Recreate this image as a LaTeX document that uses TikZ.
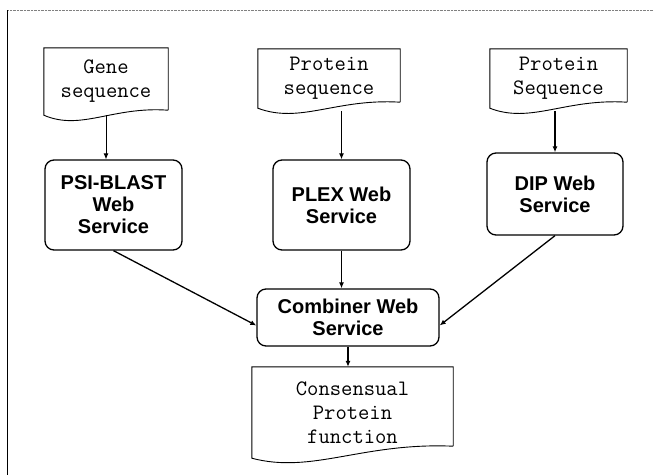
\documentclass[tikz,border=0pt]{standalone}
\usepackage{fontspec}
\newfontfamily\svcfont{Liberation Sans}
\usetikzlibrary{arrows.meta,calc,positioning}

\tikzset{
  service/.style={draw, line width=1.3pt, rounded corners=9pt, align=center,
    inner sep=0pt, font=\svcfont\bfseries\fontsize{20}{22}\selectfont},
  datafile/.style={align=center, inner sep=0pt,
    font=\ttfamily\fontsize{22}{24}\selectfont},
  docline/.style={line width=0.9pt},
  flow/.style={-{Latex[length=6pt,width=5pt]}, line width=1.3pt},
}

% document outline with wavy bottom: node, dip, rise of right corner
\newcommand{\docoutline}[3]{%
  \draw[docline] ([yshift=#3]#1.south east) -- (#1.north east) -- (#1.north west) -- (#1.south west)
    .. controls ($(#1.south west)!0.3!(#1.south east)+(0pt,{-3.2*#2})$)
    and ($(#1.south west)!0.55!(#1.south east)+(0pt,{#3+4pt})$) .. ([yshift=#3]#1.south east);
}

\begin{document}
\begin{tikzpicture}[x=1pt,y=-1pt]
  \useasboundingbox (0,0) rectangle (654,475);
  % frame
  \draw[gray, densely dotted] (7,10) -- (654,10);
  \draw[line width=1pt] (7,10) -- (7,475);

  % inputs
  \node[datafile, minimum width=124pt, minimum height=67pt] (gene) at (106,81.5) {Gene\\sequence};
  \node[datafile, minimum width=142pt, minimum height=59pt] (protseq) at (329,78.5) {Protein\\sequence};
  \node[datafile, minimum width=137pt, minimum height=59pt] (dipseq) at (558.5,78.5) {Protein\\Sequence};
  \docoutline{gene}{5pt}{5pt}
  \docoutline{protseq}{5pt}{6pt}
  \docoutline{dipseq}{5pt}{6pt}

  % services
  \node[service, minimum width=137pt, minimum height=90pt] (psi) at (113.5,205) {PSI-BLAST\\Web\\Service};
  \node[service, minimum width=137pt, minimum height=90pt] (plex) at (341.5,205) {PLEX Web\\Service};
  \node[service, minimum width=136pt, minimum height=82pt] (dip) at (555,194) {DIP Web\\Service};
  \node[service, minimum width=182pt, minimum height=57pt] (comb) at (348,317.5) {Combiner Web\\Service};

  % output
  \node[datafile, minimum width=201pt, minimum height=91pt] (consensus) at (352.5,412.5) {Consensual\\Protein\\function};
  \docoutline{consensus}{5pt}{12pt}

  % connectors
  \draw[flow, line width=0.8pt] (gene.south) -- (gene.south |- psi.north);
  \draw[flow] ($(plex.north |- protseq.south)+(0,3)$) -- (plex.north);
  \draw[flow] ($(dip.north |- dipseq.south)+(0,3)$) -- (dip.north);
  \draw[flow] (psi.south) -- ([yshift=-8pt]comb.west);
  \draw[flow] (plex.south) -- (plex.south |- comb.north);
  \draw[flow] (dip.south) -- ([yshift=-8pt]comb.east);
  \draw[flow] (comb.south) -- (comb.south |- consensus.north);
\end{tikzpicture}
\end{document}
